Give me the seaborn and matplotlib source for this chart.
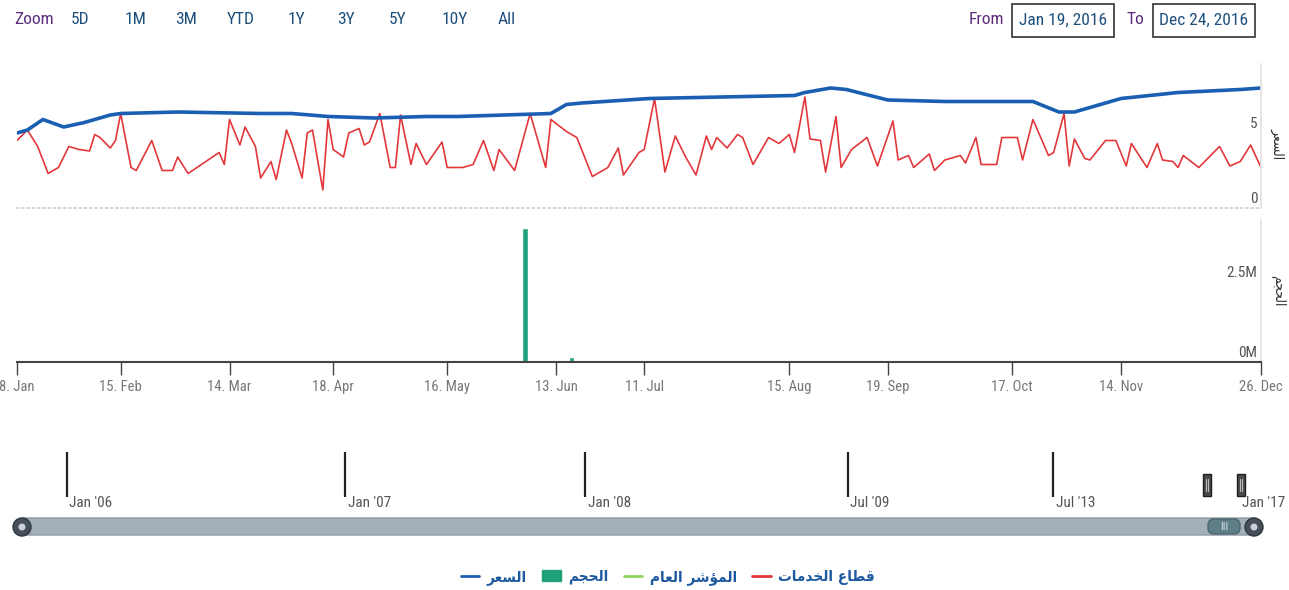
import seaborn as sns
import matplotlib.pyplot as plt
from matplotlib.lines import Line2D
from matplotlib.patches import Patch, FancyBboxPatch, Rectangle, Circle

# ordinal x axis: trading sessions 0..240 (8 Jan .. 26 Dec 2016)
tick_sessions = [0, 20, 41, 61, 83, 104, 121, 149, 168, 192, 213, 240]
tick_labels = ["8. Jan", "15. Feb", "14. Mar", "18. Apr", "16. May", "13. Jun",
               "11. Jul", "15. Aug", "19. Sep", "17. Oct", "14. Nov", "26. Dec"]

# السعر (price)
price_sessions = [0, 2, 5, 9, 13, 18, 20, 31, 47, 53, 60, 69, 79, 85, 103, 106,
                  109, 122, 150, 152, 157, 160, 168, 179, 196, 201, 204, 213,
                  224, 236, 240]
price_values = [5.0, 5.2, 5.9, 5.4, 5.7, 6.2, 6.3, 6.4, 6.3, 6.3, 6.1, 6.0, 6.1,
                6.1, 6.3, 6.9, 7.0, 7.3, 7.5, 7.7, 8.0, 7.9, 7.2, 7.1, 7.1, 6.4,
                6.4, 7.3, 7.7, 7.9, 8.0]

# قطاع الخدمات (services sector)
sector_sessions = [0, 2, 4, 6, 8, 10, 12, 14, 15, 16, 18, 19, 20, 22, 23, 26,
                   28, 30, 31, 33, 36, 39, 40, 41, 43, 44, 46, 47, 49, 50, 52,
                   53, 55, 56, 57, 59, 60, 61, 63, 64, 66, 67, 68, 70, 72, 73,
                   74, 76, 77, 79, 82, 83, 86, 88, 90, 92, 93, 96, 99, 102, 103,
                   106, 108, 111, 114, 116, 117, 120, 121, 123, 125, 127, 129,
                   131, 133, 134, 135, 137, 139, 140, 142, 145, 147, 149, 150,
                   152, 153, 155, 156, 158, 159, 161, 164, 166, 169, 170, 172,
                   173, 176, 177, 179, 182, 183, 185, 186, 188, 189, 190, 193,
                   194, 196, 197, 199, 200, 202, 203, 204, 206, 207, 210, 212,
                   214, 215, 218, 220, 221, 223, 224, 225, 228, 230, 232, 234,
                   236, 238, 240]
sector_values = [4.5, 5.2, 4.1, 2.3, 2.7, 4.1, 3.9, 3.8, 4.9, 4.7, 4.0, 4.5, 6.3,
                 2.7, 2.5, 4.5, 2.5, 2.5, 3.4, 2.3, 3.0, 3.7, 2.9, 5.9, 4.2, 5.4,
                 4.1, 2.0, 3.1, 1.9, 5.2, 4.3, 2.0, 5.0, 5.2, 1.2, 5.9, 3.9, 3.4,
                 5.0, 5.3, 4.2, 4.4, 6.3, 2.7, 2.7, 6.2, 2.9, 4.3, 2.9, 4.4, 2.7,
                 2.7, 2.9, 4.5, 2.5, 3.9, 2.5, 6.3, 2.7, 5.9, 5.1, 4.7, 2.1, 2.7,
                 4.0, 2.2, 3.7, 3.9, 7.3, 2.4, 4.8, 3.4, 2.2, 4.8, 3.9, 4.7, 4.0,
                 4.9, 4.7, 2.9, 4.7, 4.3, 4.9, 3.7, 7.4, 4.6, 4.5, 2.4, 6.1, 2.7,
                 3.9, 4.7, 2.8, 5.8, 3.2, 3.5, 2.7, 3.6, 2.5, 3.2, 3.5, 3.0, 4.7,
                 2.9, 2.9, 2.9, 4.7, 4.7, 3.2, 5.9, 5.1, 3.5, 3.7, 6.3, 2.8, 4.6,
                 3.3, 3.2, 4.5, 4.5, 2.8, 4.3, 2.7, 4.3, 3.2, 3.1, 2.7, 3.5, 2.7,
                 3.4, 4.1, 2.8, 3.1, 4.2, 2.7]

# الحجم (volume)
volume_sessions = [98, 107]
volume_values = [4.2e6, 0.15e6]

price_ticks = [0, 5]
price_tick_labels = ["0", "5"]
volume_ticks = [0, 2.5e6]
volume_tick_labels = ["0M", "2.5M"]

nav_positions = [9.6, 63.3, 109.6, 160.3, 199.9]
nav_labels = ["Jan '06", "Jan '07", "Jan '08", "Jul '09", "Jul '13"]

zoom_buttons = ["5D", "1M", "3M", "YTD", "1Y", "3Y", "5Y", "10Y", "All"]
date_from = "Jan 19, 2016"
date_to = "Dec 24, 2016"

name_price = "السعر"
name_volume = "الحجم"
name_index = "المؤشر العام"
name_sector = "قطاع الخدمات"

# simple Arabic shaping: (isolated, final, initial, medial)
AR_FORMS = {
    "ا": ("\uFE8D", "\uFE8E", None, None),
    "ؤ": ("\uFE85", "\uFE86", None, None),
    "د": ("\uFEA9", "\uFEAA", None, None),
    "ر": ("\uFEAD", "\uFEAE", None, None),
    "ت": ("\uFE95", "\uFE96", "\uFE97", "\uFE98"),
    "ج": ("\uFE9D", "\uFE9E", "\uFE9F", "\uFEA0"),
    "ح": ("\uFEA1", "\uFEA2", "\uFEA3", "\uFEA4"),
    "خ": ("\uFEA5", "\uFEA6", "\uFEA7", "\uFEA8"),
    "س": ("\uFEB1", "\uFEB2", "\uFEB3", "\uFEB4"),
    "ش": ("\uFEB5", "\uFEB6", "\uFEB7", "\uFEB8"),
    "ط": ("\uFEC1", "\uFEC2", "\uFEC3", "\uFEC4"),
    "ع": ("\uFEC9", "\uFECA", "\uFECB", "\uFECC"),
    "ق": ("\uFED5", "\uFED6", "\uFED7", "\uFED8"),
    "ل": ("\uFEDD", "\uFEDE", "\uFEDF", "\uFEE0"),
    "م": ("\uFEE1", "\uFEE2", "\uFEE3", "\uFEE4"),
}


def ar(text):
    words = []
    for word in text.split(" "):
        res = []
        for i, c in enumerate(word):
            forms = AR_FORMS[c]
            prev_j = i > 0 and AR_FORMS[word[i - 1]][2] is not None
            next_j = i < len(word) - 1 and forms[2] is not None
            if prev_j and next_j:
                res.append(forms[3])
            elif prev_j:
                res.append(forms[1])
            elif next_j:
                res.append(forms[2])
            else:
                res.append(forms[0])
        words.append("".join(reversed(res)))
    return " ".join(reversed(words))


sns.set_theme(style="white")
plt.rcParams["font.family"] = ["Roboto Condensed", "DejaVu Sans"]
plt.rcParams["font.stretch"] = "condensed"

W, H = 1289, 590
fig = plt.figure(figsize=(W / 100, H / 100), dpi=100)


def px_axes(x0, y0, x1, y1, **kw):
    return fig.add_axes([x0 / W, 1 - y1 / H, (x1 - x0) / W, (y1 - y0) / H], **kw)


# chrome layer (buttons, date boxes, scrollbar)
ui = px_axes(0, 0, W, H)
ui.set_xlim(0, W)
ui.set_ylim(H, 0)
ui.axis("off")

BLUE_TXT = "#1d4f7c"
PURPLE = "#5c2b7a"
TOP_FS = 12.5
ui.text(34, 19, "Zoom", color=PURPLE, fontsize=TOP_FS, ha="center", va="center")
for lab, cx in zip(zoom_buttons, [80, 136, 186, 241, 296, 346, 398, 455, 507]):
    ui.text(cx, 19, lab, color=BLUE_TXT, fontsize=TOP_FS, ha="center", va="center")
ui.text(986, 19, "From", color=PURPLE, fontsize=TOP_FS, ha="center", va="center")
ui.text(1135, 19, "To", color=PURPLE, fontsize=TOP_FS, ha="center", va="center")
for x0, lab in [(1012, date_from), (1153, date_to)]:
    ui.add_patch(Rectangle((x0, 4), 102, 33, fc="white", ec="#333333", lw=1.2))
    ui.text(x0 + 51, 20, lab, color=BLUE_TXT, fontsize=TOP_FS, ha="center", va="center")

# scrollbar
ui.add_patch(FancyBboxPatch((17, 518), 1243, 17, boxstyle="round,pad=0,rounding_size=8",
                            fc="#a5afb9", ec="#8e99a4", lw=1))
ui.add_patch(FancyBboxPatch((1208, 519), 32, 15, boxstyle="round,pad=0,rounding_size=6",
                            fc="#5e7f88", ec="#4d6a72", lw=1))
ui.text(1224, 527, "III", color="#d8e2e4", fontsize=8, ha="center", va="center")
for cx in [22, 1254]:
    ui.add_patch(Circle((cx, 527), 9, fc="#45505a", ec="#2f3840", lw=1))
    ui.add_patch(Circle((cx, 527), 3.5, fc="#c9d0d6", ec="none"))
for hx in [1203, 1237]:
    ui.add_patch(Rectangle((hx, 474), 8, 22, fc="#4a4a4a", ec="#1e1e1e", lw=1))
    ui.plot([hx + 3, hx + 3], [479, 491], color="#bbbbbb", lw=0.8)
    ui.plot([hx + 5, hx + 5], [479, 491], color="#bbbbbb", lw=0.8)

# price panel
ax_p = px_axes(17, 64, 1261, 208)
ax_p.patch.set_alpha(0)
sns.lineplot(x=sector_sessions, y=sector_values, ax=ax_p, color="#e2383c", lw=1.2)
sns.lineplot(x=price_sessions, y=price_values, ax=ax_p, color="#1b5fb3", lw=2.6)
ax_p.set_xlim(0, 240)
ax_p.set_ylim(0, 9.6)
ax_p.set_xticks([])
ax_p.set_yticks([])
for s in ["top", "left"]:
    ax_p.spines[s].set_visible(False)
ax_p.spines["right"].set_color("#e2e2e2")
ax_p.spines["bottom"].set_color("#d0d0d0")
ax_p.spines["bottom"].set_linestyle((0, (1, 2)))
for v, lab in zip(price_ticks, price_tick_labels):
    ax_p.text(0.997, v + 0.15, lab, transform=ax_p.get_yaxis_transform(),
              ha="right", va="bottom", color="#555555", fontsize=11)
ax_p.text(1.008, 0.45, ar(name_price), transform=ax_p.transAxes, rotation=-90,
          ha="left", va="center", color="#333333", fontsize=10, family="DejaVu Sans")

# volume panel
ax_v = px_axes(17, 220, 1261, 362)
ax_v.patch.set_alpha(0)
ax_v.bar(volume_sessions, volume_values, width=1.1, color="#20a07c")
ax_v.set_xlim(0, 240)
ax_v.set_ylim(0, 4.44e6)
ax_v.set_yticks([])
for s in ["top", "left"]:
    ax_v.spines[s].set_visible(False)
ax_v.spines["right"].set_color("#e2e2e2")
ax_v.spines["bottom"].set_color("#444444")
ax_v.spines["bottom"].set_linewidth(1.5)
ax_v.set_xticks(tick_sessions)
ax_v.set_xticklabels(tick_labels)
ax_v.tick_params(axis="x", direction="out", length=9, width=1, color="#444444",
                 labelcolor="#777777", labelsize=10.5, pad=4, bottom=True)
for v, lab in zip(volume_ticks, volume_tick_labels):
    ax_v.text(0.997, v + 0.05e6, lab, transform=ax_v.get_yaxis_transform(),
              ha="right", va="bottom", color="#555555", fontsize=11)
ax_v.text(1.008, 0.5, ar(name_volume), transform=ax_v.transAxes, rotation=-90,
          ha="left", va="center", color="#333333", fontsize=10, family="DejaVu Sans")

# navigator
ax_n = px_axes(17, 447, 1261, 515)
ax_n.patch.set_alpha(0)
ax_n.set_xlim(0, 240)
ax_n.set_ylim(0, 1)
ax_n.axis("off")
ax_n.vlines(nav_positions, 0.265, 0.926, color="#222222", lw=1.6)
for pos, lab in zip(nav_positions, nav_labels):
    ax_n.text(pos + 0.5, 0.17, lab, ha="left", va="center", color="#555555", fontsize=11)
ax_n.text(240.5, 0.17, "Jan '17", ha="center", va="center", color="#555555", fontsize=11)

# legend
handles = [
    Line2D([], [], color="#1b5fb3", lw=2),
    Patch(fc="#20a07c", ec="#20a07c"),
    Line2D([], [], color="#8fd45a", lw=2),
    Line2D([], [], color="#e2383c", lw=2),
]
labels = [ar(name_price), ar(name_volume), ar(name_index), ar(name_sector)]
leg = fig.legend(handles, labels, ncol=4, loc="center", bbox_to_anchor=(668 / W, 1 - 577 / H),
                 frameon=False, handlelength=1.2, columnspacing=1.0, handletextpad=0.5,
                 prop={"family": "DejaVu Sans", "weight": "bold", "size": 11})
for t in leg.get_texts():
    t.set_color("#1e5aa0")

fig.savefig("out.png", dpi=100)
